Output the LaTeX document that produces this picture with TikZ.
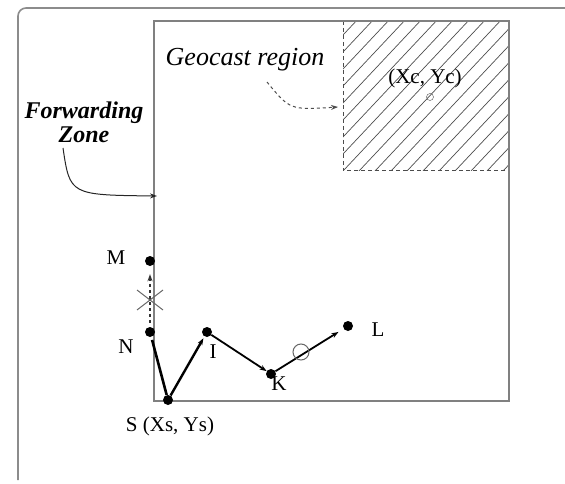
\documentclass[tikz,border=0pt]{standalone}
\usepackage{fontspec}
\setmainfont{Liberation Serif}
\usetikzlibrary{arrows.meta}
\begin{document}
\begin{tikzpicture}[x=1pt,y=-1pt,
  dot/.style={circle,fill=black,inner sep=0pt,minimum size=10pt},
  lbl/.style={font=\fontsize{21}{23}\selectfont},
  frame/.style={draw=black!50,line width=1.6pt},
  link/.style={line width=2pt,-{Stealth[length=7pt,width=5pt]}},
  >={Stealth[length=7pt,width=5pt]}]
\useasboundingbox (0,0) rectangle (565,484);
% outer frame
\draw[black!45,line width=1.6pt,rounded corners=8pt] (18,480) -- (18,8) -- (565,8);
% hatched geocast region
\begin{scope}
\clip (343,21) rectangle (509,171);
\foreach \k in {0,...,22} {
  \draw[black!70,line width=0.7pt] (343+\k*16-160,171) -- ++(160,-170);
}
\end{scope}
\draw[black!70,line width=1pt,dash pattern=on 4pt off 3pt] (343,21) -- (343,171) -- (509,171);
% inner rectangle
\draw[frame] (154,21) rectangle (509,401);
% geocast center
\node[circle,draw=black!70,inner sep=0pt,minimum size=7pt] (c) at (430,97) {};
\node[lbl] (clbl) at (425,78) {(Xc, Yc)};
\node[lbl,font=\fontsize{26}{28}\selectfont\itshape] (geo) at (245,60) {Geocast region};
\coordinate (geoend) at (338,107);
\draw[black!70,dashed,line width=1pt,->] (267,82) .. controls (290,110) .. (geoend);
% forwarding zone
\node[lbl,font=\fontsize{24}{24}\selectfont\bfseries\itshape,align=center,inner sep=0pt] (fz) at (84,122) {Forwarding\\Zone};
\coordinate (fzend) at (157,196);
\draw[black!85,line width=1pt,->] (63,148) .. controls (70,195) .. (fzend);
% nodes
\node[dot] (M) at (150,261) {};
\node[dot] (N) at (150,332) {};
\node[dot] (I) at (207,332) {};
\node[dot] (S) at (168,400) {};
\node[dot] (K) at (271,374) {};
\node[dot] (L) at (348,326) {};
\node[lbl] at (116,258) {M};
\node[lbl] at (126,347) {N};
\node[lbl] at (213,352) {I};
\node[lbl] at (279,384) {K};
\node[lbl] at (378,330) {L};
\node[lbl] at (170,426) {S (Xs, Ys)};
% links
\draw[line width=2.6pt,shorten >=3pt] (S) -- (N);
\draw[link,line width=2.4pt,shorten >=2pt] (S) -- (I);
\draw[link,line width=1.8pt] (I) -- (K);
\draw[link,line width=1.8pt,shorten >=6pt] (K) -- (L);
\draw[black!60,line width=1pt] (301,352) circle (8);
\draw[dashed,line width=1.2pt,black!80,->,shorten >=8pt,shorten <=4pt] (N) -- (M);
\draw[black!60,line width=1pt] (137,290) -- (163,310) (137,310) -- (163,290);
\end{tikzpicture}
\end{document}
